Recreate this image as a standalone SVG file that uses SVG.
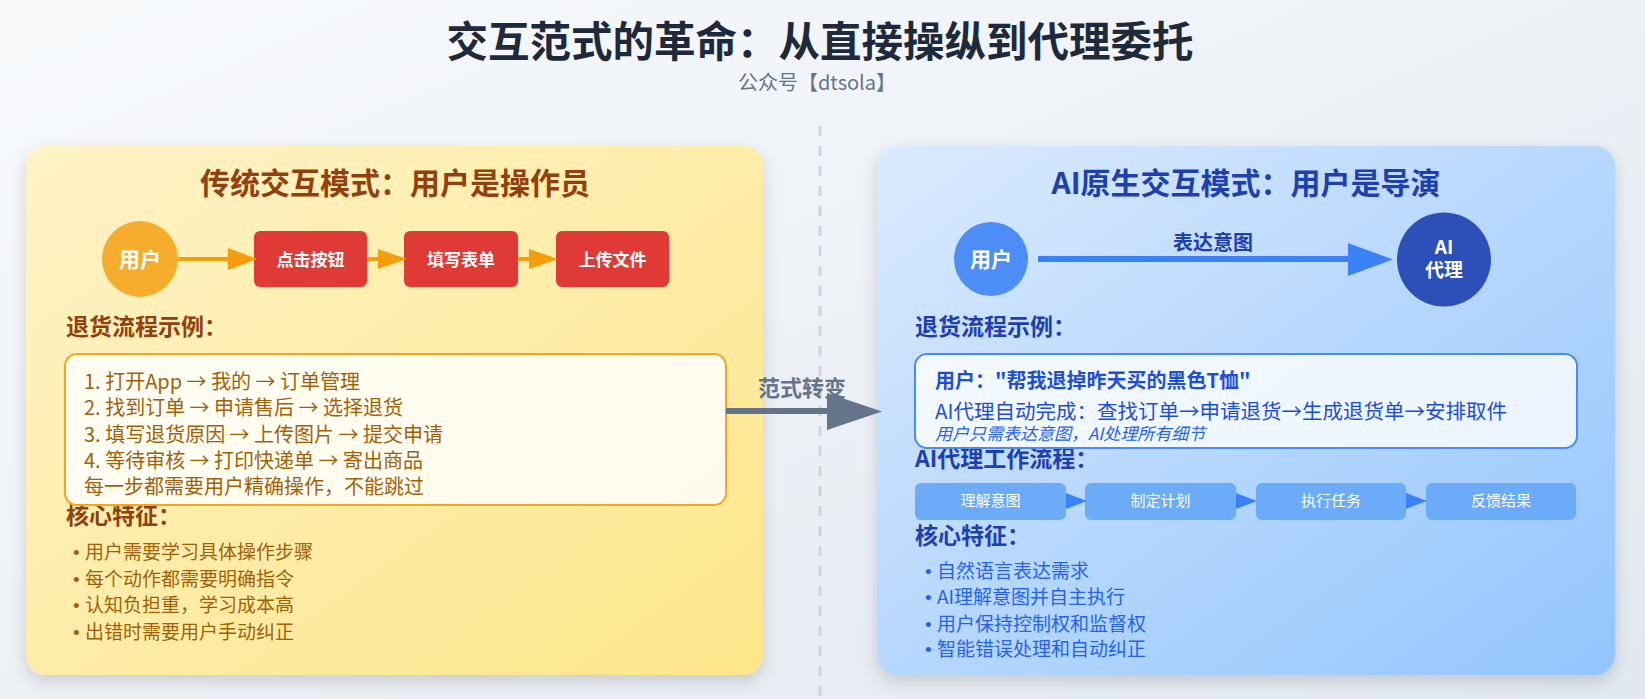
<svg xmlns="http://www.w3.org/2000/svg" width="1645" height="699" viewBox="0 0 1645 699">
<defs>
<linearGradient id="bg" x1="0" y1="0" x2="1" y2="1"><stop offset="0" stop-color="#f8fafc"/><stop offset="1" stop-color="#e2e8f0"/></linearGradient>
<linearGradient id="gl" x1="0" y1="0" x2="1" y2="1"><stop offset="0" stop-color="#fef3c7"/><stop offset="1" stop-color="#fde68a"/></linearGradient>
<linearGradient id="gr" x1="0" y1="0" x2="1" y2="1"><stop offset="0" stop-color="#dbeafe"/><stop offset="1" stop-color="#93c5fd"/></linearGradient>
<filter id="sh" x="-10%" y="-10%" width="120%" height="125%"><feDropShadow dx="0" dy="6" stdDeviation="8" flood-color="#000" flood-opacity="0.15"/></filter>
</defs>
<style>
text{font-family:"Noto Sans CJK SC","Noto Sans",sans-serif}
.b{font-weight:bold}
.mid{text-anchor:middle}
.bu{font-family:"Liberation Sans",sans-serif}
.lh{fill:#92400e;font-size:23px;font-weight:bold}
.lt{fill:#a16207;font-size:20px}
.lb{fill:#a16207;font-size:19px}
.rh{fill:#1e40af;font-size:23px;font-weight:bold}
.rb{fill:#2563eb;font-size:19px}
.red{fill:#e03a36}
.wf{fill:#6babf8}
.wt{fill:#fff;font-size:15px;text-anchor:middle}
.wh{fill:#fff;font-weight:bold;text-anchor:middle}
</style>
<rect width="1645" height="699" fill="url(#bg)"/>
<text x="820" y="57" class="b mid" font-size="41.5" fill="#1e293b">交互范式的革命：从直接操纵到代理委托</text>
<text x="817" y="90" class="mid" font-size="20" fill="#64748b">公众号【dtsola】</text>
<line x1="820" y1="126" x2="820" y2="699" stroke="#cbd5e1" stroke-width="3" stroke-dasharray="10 10"/>

<g id="left-panel">
<rect x="26" y="146" width="737" height="529" rx="20" fill="url(#gl)" filter="url(#sh)"/>
<text x="395" y="194" class="b mid" font-size="30" fill="#92400e">传统交互模式：用户是操作员</text>
<text x="66" y="335" class="lh">退货流程示例：</text>
<text x="66" y="524" class="lh">核心特征：</text>
<text x="73" y="559" class="lb"><tspan class="bu">• </tspan>用户需要学习具体操作步骤</text>
<text x="73" y="586" class="lb"><tspan class="bu">• </tspan>每个动作都需要明确指令</text>
<text x="73" y="612" class="lb"><tspan class="bu">• </tspan>认知负担重，学习成本高</text>
<text x="73" y="639" class="lb"><tspan class="bu">• </tspan>出错时需要用户手动纠正</text>
</g>
<g id="left-user"><circle cx="140" cy="259" r="38" fill="#f6ac2c"/><text x="140" y="267" class="wh" font-size="21">用户</text></g>
<g id="click"><rect x="254" y="231" width="113" height="56" rx="6" class="red"/><text x="310.5" y="266" class="wh" font-size="17">点击按钮</text></g>
<g id="fill"><rect x="404" y="231" width="114" height="56" rx="6" class="red"/><text x="461" y="266" class="wh" font-size="17">填写表单</text></g>
<g id="upload"><rect x="556" y="231" width="113" height="56" rx="6" class="red"/><text x="612.5" y="266" class="wh" font-size="17">上传文件</text></g>
<g id="left-example">
<rect x="65" y="354" width="661" height="151" rx="12" fill="#fff" fill-opacity="0.82" stroke="#f5a524" stroke-width="2"/>
<text x="84" y="389" class="lt">1. 打开App → 我的 → 订单管理</text>
<text x="84" y="415" class="lt">2. 找到订单 → 申请售后 → 选择退货</text>
<text x="84" y="442" class="lt">3. 填写退货原因 → 上传图片 → 提交申请</text>
<text x="84" y="468" class="lt">4. 等待审核 → 打印快递单 → 寄出商品</text>
<text x="84" y="494" class="lt">每一步都需要用户精确操作，不能跳过</text>
</g>

<g id="right-panel">
<rect x="877" y="146" width="738" height="529" rx="20" fill="url(#gr)" filter="url(#sh)"/>
<text x="1246" y="194" class="b mid" font-size="30" fill="#1e40af">AI原生交互模式：用户是导演</text>
<text x="915" y="335" class="rh">退货流程示例：</text>
<text x="915" y="467" class="rh">AI代理工作流程：</text>
<text x="915" y="544" class="rh">核心特征：</text>
<text x="925" y="578" class="rb"><tspan class="bu">• </tspan>自然语言表达需求</text>
<text x="925" y="604" class="rb"><tspan class="bu">• </tspan>AI理解意图并自主执行</text>
<text x="925" y="631" class="rb"><tspan class="bu">• </tspan>用户保持控制权和监督权</text>
<text x="925" y="656" class="rb"><tspan class="bu">• </tspan>智能错误处理和自动纠正</text>
</g>
<g id="right-user"><circle cx="991" cy="259" r="37" fill="#4c8df6"/><text x="991" y="267" class="wh" font-size="21">用户</text></g>
<g id="ai-agent"><circle cx="1444" cy="259.5" r="47" fill="#2c4fb8"/><text x="1444" y="254" class="wh" font-size="19">AI</text><text x="1444" y="277" class="wh" font-size="19">代理</text></g>
<g id="right-example">
<rect x="915" y="354" width="662" height="94" rx="12" fill="#fff" fill-opacity="0.78" stroke="#4a8cf5" stroke-width="2"/>
<text x="935" y="388" class="b" font-size="20" fill="#1d4ed8">用户："帮我退掉昨天买的黑色T恤"</text>
<text x="935" y="419" font-size="20.5" fill="#1d4ed8">AI代理自动完成：查找订单→申请退货→生成退货单→安排取件</text>
<text x="935" y="440" font-size="17" font-style="italic" fill="#2563eb">用户只需表达意图，AI处理所有细节</text>
</g>
<g id="wf1"><rect x="915" y="483" width="151" height="37" rx="6" class="wf"/><text x="990.5" y="506" class="wt">理解意图</text></g>
<g id="wf2"><rect x="1085" y="483" width="151" height="37" rx="6" class="wf"/><text x="1160.5" y="506" class="wt">制定计划</text></g>
<g id="wf3"><rect x="1256" y="483" width="150" height="37" rx="6" class="wf"/><text x="1331" y="506" class="wt">执行任务</text></g>
<g id="wf4"><rect x="1426" y="483" width="150" height="37" rx="6" class="wf"/><text x="1501" y="506" class="wt">反馈结果</text></g>

<g id="connectors">
<g fill="#f59e0b" stroke="#f59e0b">
<line x1="178" y1="259" x2="230" y2="259" stroke-width="4"/><polygon points="228,248 257,259 228,270" stroke="none"/>
<line x1="367" y1="259" x2="380" y2="259" stroke-width="4"/><polygon points="378,249 407,259 378,269" stroke="none"/>
<line x1="518" y1="259" x2="531" y2="259" stroke-width="4"/><polygon points="529,249 558,259 529,269" stroke="none"/>
</g>
<line x1="1038" y1="259" x2="1350" y2="259" stroke="#3b82f6" stroke-width="6"/>
<polygon points="1348,243 1393,259.5 1348,276" fill="#3b82f6"/>
<text x="1213" y="250" class="b mid" font-size="20" fill="#1e40af">表达意图</text>
<g fill="#3b82f6">
<polygon points="1066,493 1087,501 1066,509"/>
<polygon points="1236,493 1257,501 1236,509"/>
<polygon points="1406,493 1427,501 1406,509"/>
</g>
<line x1="726" y1="411" x2="829" y2="411" stroke="#64748b" stroke-width="6"/>
<polygon points="827,393 882,411.5 827,430" fill="#64748b"/>
<text x="802" y="396" class="b mid" font-size="22" fill="#64748b">范式转变</text>
</g>
</svg>
